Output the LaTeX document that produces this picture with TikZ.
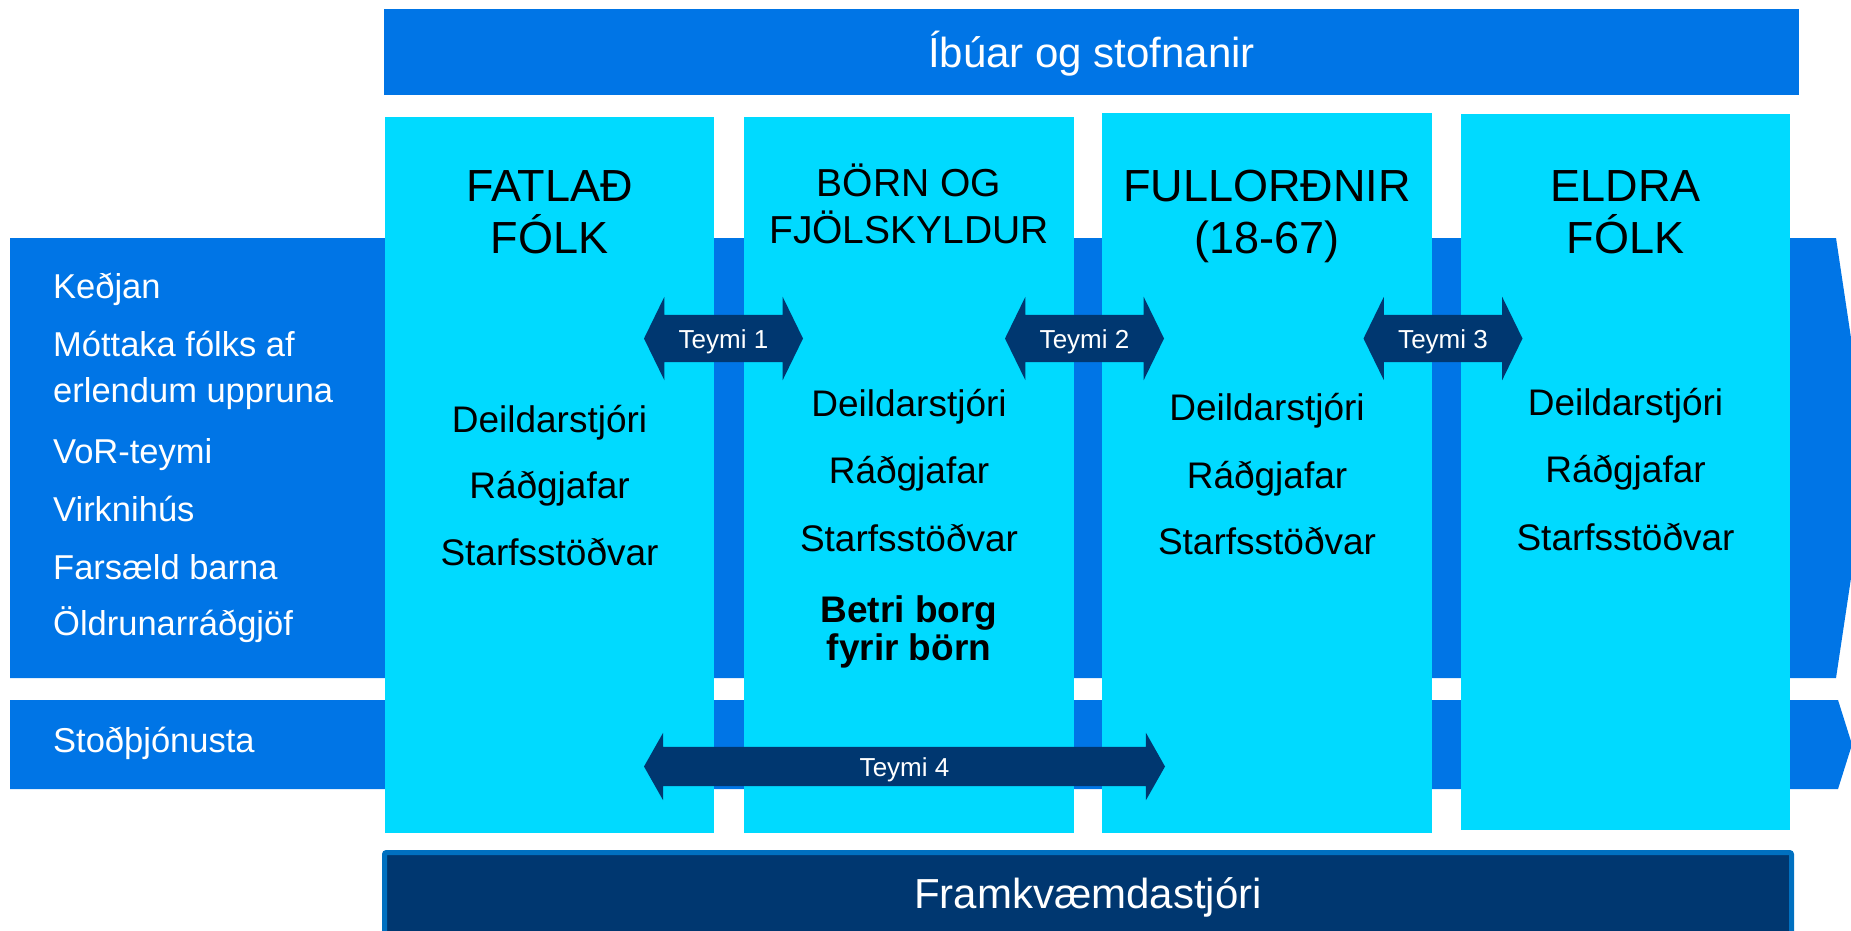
\documentclass[tikz,border=0pt]{standalone}
\usepackage{fontspec}
\setmainfont{Liberation Sans}
\usetikzlibrary{shapes.arrows}
\definecolor{bandblue}{RGB}{0,117,230}
\definecolor{colcyan}{RGB}{0,218,255}
\definecolor{navy}{RGB}{0,55,112}
\definecolor{rimblue}{RGB}{0,112,192}

\begin{document}
\begin{tikzpicture}[x=1pt,y=-1pt]
        \useasboundingbox (0,0) rectangle (1851,930);
        \clip (0,0) rectangle (1851,930);

        \fill[bandblue] (10,238) -- (1836,238) -- (1869,458) -- (1836,678) -- (10,678) -- cycle;
        \fill[bandblue] (10,700) -- (1838,700) -- (1852,744.5) -- (1838,789) -- (10,789) -- cycle;

        \node[fill=bandblue, text=white, minimum width=1415pt, minimum height=86pt, font=\fontsize{42}{50}\selectfont, text height=30pt, text depth=0pt] (ibuar) at (1091.5,52) {Íbúar og stofnanir};

        \begin{scope}[every node/.style={fill=colcyan, inner sep=0pt, minimum width=330pt}]
            \node[minimum width=329pt, minimum height=716pt] (fatlad) at (549.5,475) {};
            \node[minimum height=716pt] (born) at (909,475) {};
            \node[minimum height=720pt] (fullord) at (1267,473) {};
            \node[minimum width=329pt, minimum height=716pt] (eldra) at (1625.5,472) {};
        \end{scope}

        \begin{scope}[every node/.style={double arrow, fill=navy, text=white, inner xsep=0pt, font=\fontsize{26}{30}\selectfont, text height=19pt, text depth=0pt}]
            \node[minimum height=159pt, inner ysep=14pt, double arrow head extend=18pt, double arrow tip angle=128] (teymi1) at (723.5,338.5) {Teymi 1};
            \node[minimum height=159pt, inner ysep=14pt, double arrow head extend=18pt, double arrow tip angle=128] (teymi2) at (1084.5,338.5) {Teymi 2};
            \node[minimum height=159pt, inner ysep=14pt, double arrow head extend=18pt, double arrow tip angle=128] (teymi3) at (1443,338.5) {Teymi 3};
            \node[minimum height=521pt, inner ysep=10pt, double arrow head extend=14pt, double arrow tip angle=121] (teymi4) at (904.5,766.5) {Teymi 4};
        \end{scope}

        \begin{scope}[every node/.style={anchor=west, text=white, inner sep=0pt, font=\fontsize{34.5}{41}\selectfont, text height=24.5pt, text depth=0pt}]
            \node (kedjan) at (53,286) {Keðjan};
            \node (mottaka) at (53,344) {Móttaka fólks af};
            \node (erlendum) at (53,390) {erlendum uppruna};
            \node (vor) at (53,451) {VoR-teymi};
            \node (virkni) at (53,509) {Virknihús};
            \node (farsaeld) at (53,567) {Farsæld barna};
            \node (oldrun) at (53,623) {Öldrunarráðgjöf};
            \node (stod) at (53,740) {Stoðþjónusta};
        \end{scope}

        \begin{scope}[every node/.style={inner sep=0pt, font=\fontsize{45}{52}\selectfont, text height=32pt, text depth=0pt}]
            \node (fatlad1) at (549.5,185) {FATLAÐ};
            \node (fatlad2) at (549.5,237) {FÓLK};
            \node[font=\fontsize{39}{46}\selectfont, text height=28pt] (born1) at (909,182) {BÖRN OG};
            \node[font=\fontsize{39}{46}\selectfont, text height=28pt] (born2) at (909,229) {FJÖLSKYLDUR};
            \node (fullord1) at (1267,185) {FULLORÐNIR};
            \node (fullord2) at (1267,237) {(18-67)};
            \node (eldra1) at (1625.5,185) {ELDRA};
            \node (eldra2) at (1625.5,237) {FÓLK};
        \end{scope}

        \begin{scope}[every node/.style={inner sep=0pt, font=\fontsize{37}{44}\selectfont, text height=26.5pt, text depth=0pt}]
            \node (deild1) at (549.5,419) {Deildarstjóri};
            \node (radg1) at (549.5,485) {Ráðgjafar};
            \node (starf1) at (549.5,552) {Starfsstöðvar};
            \node (deild2) at (909,403) {Deildarstjóri};
            \node (radg2) at (909,470) {Ráðgjafar};
            \node (starf2) at (909,538) {Starfsstöðvar};
            \node[font=\bfseries\fontsize{37}{44}\selectfont] (betri1) at (909,609) {Betri borg};
            \node[font=\bfseries\fontsize{37}{44}\selectfont] (betri2) at (909,647) {fyrir börn};
            \node (deild3) at (1267,407) {Deildarstjóri};
            \node (radg3) at (1267,475) {Ráðgjafar};
            \node (starf3) at (1267,541) {Starfsstöðvar};
            \node (deild4) at (1625.5,402) {Deildarstjóri};
            \node (radg4) at (1625.5,469) {Ráðgjafar};
            \node (starf4) at (1625.5,537) {Starfsstöðvar};
        \end{scope}

        \node[fill=navy, draw=rimblue, line width=5pt, rounded corners=2pt, text=white, minimum width=1407pt, minimum height=81pt, font=\fontsize{42}{50}\selectfont, text height=30pt, text depth=0pt] (framk) at (1088,893) {Framkvæmdastjóri};
    \end{tikzpicture}
\end{document}
